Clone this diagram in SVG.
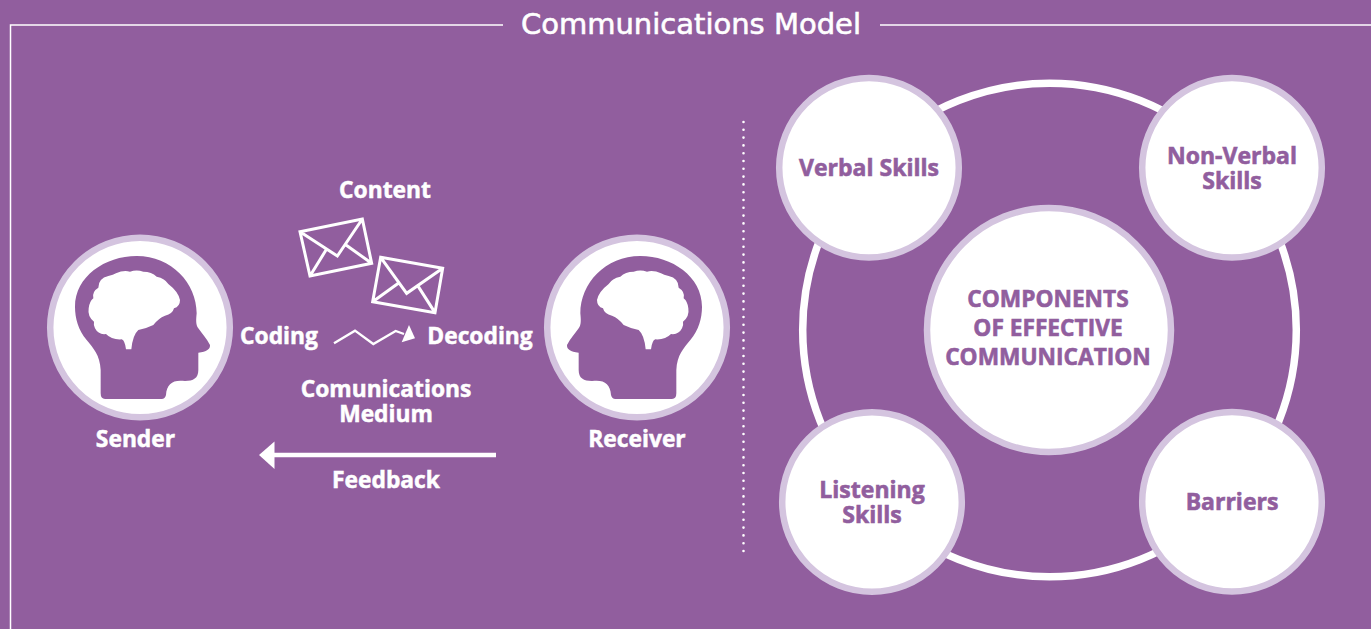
<svg xmlns="http://www.w3.org/2000/svg" width="1371" height="629" viewBox="0 0 1371 629">
<style>
.bg{fill:#915e9e}
.t{font-family:"Open Sans","Noto Sans",sans-serif;font-weight:700;font-size:22.800px;fill:#fff;stroke:#fff;stroke-width:.5;text-anchor:middle}
.p{font-family:"Open Sans","Noto Sans",sans-serif;font-weight:700;font-size:23px;fill:#915e9e;stroke:#915e9e;stroke-width:.6;text-anchor:middle}
.c{font-size:22.700px}
.title{font-family:"DejaVu Sans",sans-serif;font-size:29px;fill:#fff;stroke:#fff;stroke-width:.6;text-anchor:middle}
.ring{fill:#fff;stroke:#d4c4df;stroke-width:6.500}
.env{fill:none;stroke:#fff;stroke-width:9;stroke-linejoin:miter}
</style>
<defs>
<g id="head">
<circle class="ring" cx="140" cy="327.500" r="89.800"/>
<g transform="translate(30,220) scale(0.33333)">
<path class="bg" d="M212,520 L212,450 C210,405 190,385 170,360 C145,330 135,295 135,260 C135,170 225,108 320,108 C425,108 500,190 500,280 C498,300 497,315 505,325 C515,340 530,355 540,375 C541,388 530,395 505,398 L505,450 C505,475 490,483 465,483 C430,478 410,490 408,525 Q405,537 395,537 L225,537 Q212,537 212,520 Z"/>
<path fill="#fff" d="M304,388 L288,388 Q285,362 275,358 Q245,360 228,342 Q205,345 195,325 Q190,312 192,305 Q172,290 176,265 Q178,245 190,235 Q185,215 205,203 Q205,175 235,168 Q250,165 258,160 Q280,150 300,155 Q320,148 340,155 Q365,155 380,170 Q405,175 415,192 Q445,215 450,240 Q450,260 432,265 Q428,282 405,287 Q385,295 370,315 Q350,325 325,330 Q308,345 304,388 Z"/>
</g>
</g>
</defs>
<rect class="bg" width="1371" height="629"/>
<g id="frame" fill="none" stroke="#fff" stroke-width="1.500">
<path d="M10.500,629 V25 H503"/>
<path d="M880,25 H1371"/>
<path d="M743.500,122 V552" stroke-width="2.600" stroke-linecap="round" stroke-dasharray="0 7.800"/>
</g>
<text class="title" x="691" y="34" id="title">Communications Model</text>
<g id="connectors">
<circle cx="1049.500" cy="330" r="246.800" fill="none" stroke="#fff" stroke-width="7.500"/>
<g id="feedback-arrow"><path d="M496,455 H270" stroke="#fff" stroke-width="4.500" fill="none"/><path d="M259,455 L274.500,441.500 V469 Z" fill="#fff"/></g>
<g id="medium-arrow" transform="translate(230,170) scale(0.33333)"><path d="M312,520 L375,482 L430,522 L497,483 L522,492" fill="none" stroke="#fff" stroke-width="7"/><path d="M537,465 L555,505 L515,517 Z" fill="#fff"/></g>
</g>
<g id="sender"><use href="#head"/><text class="t" x="135.500" y="447.300">Sender</text></g>
<g id="receiver"><use href="#head" transform="translate(777,0) scale(-1,1)"/><text class="t" x="637" y="447.300">Receiver</text></g>
<g id="content"><text class="t" x="385" y="198.300">Content</text>
<g transform="translate(230,170) scale(0.33333)">
<path class="env" d="M210,185 L397,147 L425,280 L240,318 Z M210,185 L322,258 L397,147 M240,318 L288,240 M348,225 L425,280"/>
<path class="env" d="M452,262 L638,295 L615,428 L428,395 Z M452,262 L530,370 L638,295 M428,395 L505,340 M565,350 L615,428"/>
</g></g>
<g id="coding"><text class="t" x="279" y="344.300">Coding</text></g>
<g id="decoding"><text class="t" x="480" y="344.300">Decoding</text></g>
<g id="medium"><text class="t" x="386" y="397.300">Comunications</text><text class="t" x="386" y="422.300">Medium</text></g>
<g id="feedback"><text class="t" x="386" y="488.300">Feedback</text></g>
<g id="center"><circle class="ring" cx="1049" cy="330" r="122"/><text class="p c" x="1048" y="307">COMPONENTS</text><text class="p c" x="1048" y="336">OF EFFECTIVE</text><text class="p c" x="1048" y="365">COMMUNICATION</text></g>
<g id="verbal"><circle class="ring" cx="869" cy="167.800" r="89.800"/><text class="p" x="869" y="176">Verbal Skills</text></g>
<g id="nonverbal"><circle class="ring" cx="1232" cy="167.800" r="89.800"/><text class="p" x="1232" y="164">Non-Verbal</text><text class="p" x="1232" y="189">Skills</text></g>
<g id="listening"><circle class="ring" cx="872" cy="502" r="89.800"/><text class="p" x="872" y="498">Listening</text><text class="p" x="872" y="523">Skills</text></g>
<g id="barriers"><circle class="ring" cx="1232" cy="501.800" r="89.800"/><text class="p" x="1232" y="510">Barriers</text></g>
</svg>
